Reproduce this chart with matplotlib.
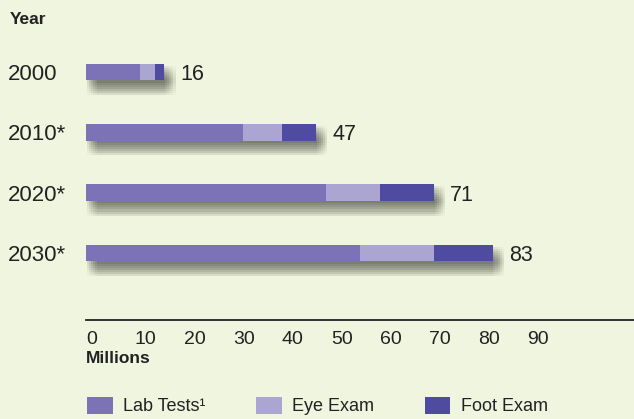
import matplotlib
matplotlib.use('Agg')
from matplotlib import pyplot as plt
from matplotlib import patheffects as pe
from matplotlib.patches import Patch

years = ['2000', '2010*', '2020*', '2030*']
lab_tests = [11, 32, 49, 56]
eye_exam = [3, 8, 11, 15]
foot_exam = [2, 7, 11, 12]
totals = [16, 47, 71, 83]
x_ticks = [0, 10, 20, 30, 40, 50, 60, 70, 80, 90]
legend_labels = ['Lab Tests\u00b9', 'Eye Exam', 'Foot Exam']

bg = '#F0F5DF'
c_lab = '#7B73B6'
c_eye = '#ABA5D2'
c_foot = '#4F4BA0'
txt = '#222222'

plt.rcParams['font.family'] = ['Liberation Sans', 'DejaVu Sans']

fig = plt.figure(figsize=(6.34, 4.19), dpi=100, facecolor=bg)
ax = fig.add_axes([86 / 634, 99 / 419, 548 / 634, 280 / 419])
ax.set_facecolor(bg)

pos = list(range(len(years)))
h = 0.28

# soft drop shadow: many faint offset copies
shadows = []
for dx in (-1.5, 0, 1.5, 3, 4.5, 6):
    for dy in (-10.5, -9, -7.5, -6, -4.5, -3, -1.5):
        shadows.append(pe.SimplePatchShadow(offset=(2 + dx, dy),
                                            shadow_rgbFace='#4c5044', alpha=0.025))
ax.barh(pos, totals, height=h, color=c_lab, zorder=1,
        path_effects=shadows + [pe.Normal()])

left2 = [a + b for a, b in zip(lab_tests, eye_exam)]
ax.barh(pos, lab_tests, height=h, color=c_lab, zorder=2)
ax.barh(pos, eye_exam, left=lab_tests, height=h, color=c_eye, zorder=2)
ax.barh(pos, foot_exam, left=left2, height=h, color=c_foot, zorder=2)

for p, t in zip(pos, totals):
    ax.annotate(str(t), (t, p), xytext=(11.5, 0), textcoords='offset points',
                va='center_baseline', ha='left', fontsize=15.5, color=txt)

ax.set_xlim(0, 548 / 4.9)
ax.set_ylim(4.11, -0.53)

ax.set_xticks(x_ticks)
ax.set_xticklabels([str(v) for v in x_ticks], fontsize=14, color=txt, ha='left')
ax.tick_params(axis='x', length=0, pad=8)

ax.set_yticks(pos)
ax.set_yticklabels(years, fontsize=16, color=txt)
ax.tick_params(axis='y', length=0, pad=56)
for lbl in ax.get_yticklabels():
    lbl.set_ha('left')
    lbl.set_va('center_baseline')

for s in ['top', 'right', 'left']:
    ax.spines[s].set_visible(False)
ax.spines['bottom'].set_color(txt)
ax.spines['bottom'].set_linewidth(1.3)

fig.text(10 / 634, 1 - 20 / 419, 'Year', fontsize=12.5, fontweight='bold',
         color=txt, va='center', ha='left')
fig.text(86 / 634, 1 - 358 / 419, 'Millions', fontsize=12.5, fontweight='bold',
         color=txt, va='center', ha='left')

handles = [Patch(facecolor=c_lab), Patch(facecolor=c_eye), Patch(facecolor=c_foot)]
fig.legend(handles, legend_labels, loc='lower left', bbox_to_anchor=(71 / 634, -0.03),
           ncol=3, frameon=False, fontsize=13, handlelength=1.4, handleheight=1.1,
           handletextpad=0.6, columnspacing=2.8, labelcolor=txt)

fig.savefig('out.png', dpi=100, facecolor=bg)
